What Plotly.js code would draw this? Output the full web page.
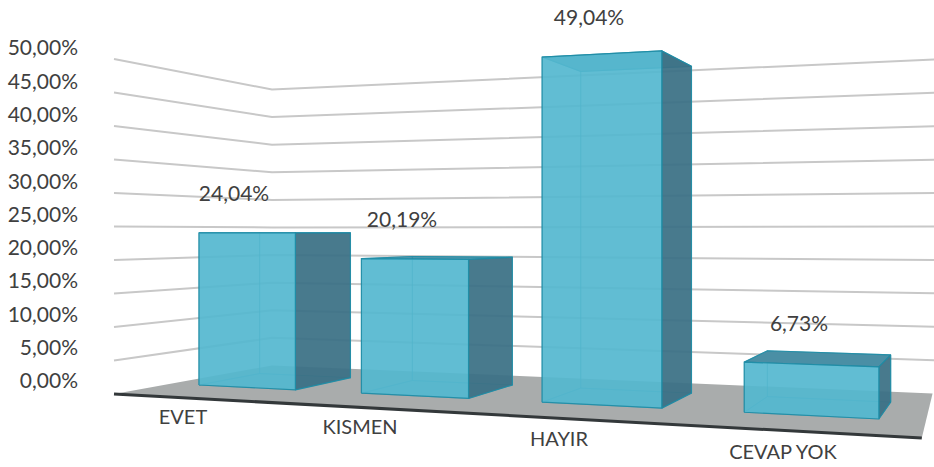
<!DOCTYPE html>
<html><head><meta charset="utf-8">
<script src="https://cdn.plot.ly/plotly-3.0.1.min.js"></script>
<style>html,body{margin:0;padding:0;background:#fff;overflow:hidden}</style>
</head><body><div id="chart" style="width:934px;height:467px"></div>
<script>
// ---- data ----
const categories = ["EVET", "KISMEN", "HAYIR", "CEVAP YOK"];
const values = [24.04, 20.19, 49.04, 6.73];
const tickValues = [0, 5, 10, 15, 20, 25, 30, 35, 40, 45, 50];
const tickLabels = ["0,00%", "5,00%", "10,00%", "15,00%", "20,00%", "25,00%", "30,00%", "35,00%", "40,00%", "45,00%", "50,00%"];

// ---- label placement (screen px) ----
const valueLabelX = [234, 402, 589, 799];
const valueLabelY = [196, 222, 20, 326];
const catLabelX = [183, 360, 559, 783];
const catLabelY = [419, 429, 441, 454];

// ---- 3D box projection (two-point perspective) ----
const VPU = -2860, VPD = 1010, HORIZON = 232;
const G = -0.2136, H = 0.2141, X0 = 114, Y0 = 394, K = 6.7;
function P(u, d, v) {
  const w = 1 + G * u + H * d;
  const x = (X0 + G * VPU * u + H * VPD * d) / w;
  const y = HORIZON + ((Y0 - HORIZON) - K * v) / w;
  return [x, y];
}
const traces = [];
function poly(pts, fill, line, lw) {
  traces.push({
    type: 'scatter', mode: line ? 'lines' : 'none', xaxis: 'x', yaxis: 'y2',
    x: pts.map(p => p[0]).concat([pts[0][0]]),
    y: pts.map(p => p[1]).concat([pts[0][1]]),
    fill: 'toself', fillcolor: fill,
    line: { color: line || 'rgba(0,0,0,0)', width: lw || 1 },
    hoverinfo: 'skip', showlegend: false
  });
}
function path(pts, color, width) {
  traces.push({
    type: 'scatter', mode: 'lines', xaxis: 'x', yaxis: 'y2',
    x: pts.map(p => p[0]), y: pts.map(p => p[1]),
    line: { color: color, width: width }, hoverinfo: 'skip', showlegend: false
  });
}
// axis carrier
traces.push({ type: 'scatter', mode: 'none', x: [200, 400, 600, 800], y: values, xaxis: 'x', yaxis: 'y',
  hoverinfo: 'skip', showlegend: false });

// floor
poly([P(0, 0, 0), P(1, 0, 0), P(0.99, 1, 0), P(0, 1, 0)], '#a9acac');
// walls: gridlines
tickValues.filter(t => t > 0).forEach(t => {
  path([P(0, 0, t), P(0, 1, t), P(1.02, 1, t)], '#c8c8c8', 2);
});
// front floor edge
path([P(0, 0, 0), P(1, 0, 0)], '#33383a', 3);

// bars
const SHIFT = -0.002, HALF_L = 0.078, HALF_R = 0.0735, D0 = 0.32, D1 = 0.72;
const EDGE = 'rgba(30,140,165,0.9)';
values.forEach((val, i) => {
  const c = (i + 0.5) / categories.length + SHIFT, a = c - HALF_L, b = c + HALF_R;
  // back, left, floor
  poly([P(a, D1, 0), P(b, D1, 0), P(b, D1, val), P(a, D1, val)], 'rgba(70,165,190,0.25)', 'rgba(30,140,165,0.45)', 1);
  poly([P(a, D0, 0), P(a, D1, 0), P(a, D1, val), P(a, D0, val)], 'rgba(70,165,190,0.25)', 'rgba(30,140,165,0.45)', 1);
  poly([P(a, D0, 0), P(b, D0, 0), P(b, D1, 0), P(a, D1, 0)], 'rgba(70,165,190,0.35)', 'rgba(30,140,165,0.4)', 1);
  // top: darker when it is seen from above
  const seenFromAbove = P(b, D0, val)[1] > P(b, D1, val)[1] + 4;
  poly([P(a, D0, val), P(b, D0, val), P(b, D1, val), P(a, D1, val)],
    seenFromAbove ? 'rgba(74,143,165,1)' : 'rgba(60,135,160,0.8)', EDGE, 1.2);
  // right side
  poly([P(b, D0, 0), P(b, D1, 0), P(b, D1, val), P(b, D0, val)], 'rgba(60,112,132,0.92)', EDGE, 1.2);
  // front
  poly([P(a, D0, 0), P(b, D0, 0), P(b, D0, val), P(a, D0, val)], 'rgba(84,184,207,0.9)', EDGE, 1.2);
});

const FONT = { family: 'Lato, "Open Sans", sans-serif', size: 21, color: '#404040' };
traces.push({
  type: 'scatter', mode: 'text', xaxis: 'x', yaxis: 'y2', x: valueLabelX, y: valueLabelY,
  text: values.map(v => v.toFixed(2).replace('.', ',') + '%'),
  textposition: 'middle center', textfont: FONT, hoverinfo: 'skip', showlegend: false, cliponaxis: false
});
traces.push({
  type: 'scatter', mode: 'text', xaxis: 'x', yaxis: 'y2', x: catLabelX, y: catLabelY,
  text: categories,
  textposition: 'middle center', textfont: Object.assign({}, FONT, { size: 20 }), hoverinfo: 'skip', showlegend: false, cliponaxis: false
});

const LEFT = 79, PX_ZERO = 381, PX_PER = 6.66;
const layout = {
  width: 934, height: 467, margin: { l: LEFT, r: 0, t: 0, b: 0 },
  paper_bgcolor: '#fff', plot_bgcolor: '#fff', showlegend: false,
  xaxis: { range: [LEFT, 934], visible: false, fixedrange: true },
  yaxis: {
    range: [(PX_ZERO - 467) / PX_PER, PX_ZERO / PX_PER], tickmode: 'array', tickvals: tickValues, ticktext: tickLabels,
    showgrid: false, zeroline: false, showline: false,
    ticks: '', tickfont: FONT, fixedrange: true
  },
  yaxis2: { range: [467, 0], overlaying: 'y', visible: false, fixedrange: true }
};
Plotly.newPlot('chart', traces, layout, { displayModeBar: false, staticPlot: true });
</script></body></html>
